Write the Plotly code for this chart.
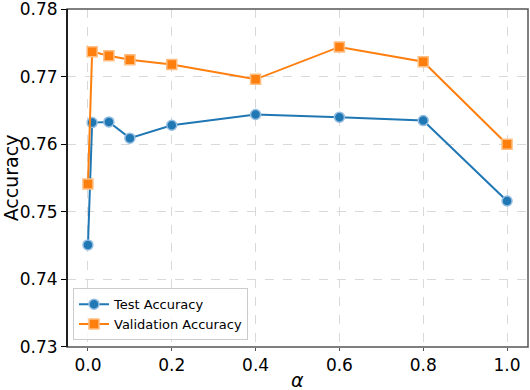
import plotly.graph_objects as go

alpha = [0.0, 0.01, 0.05, 0.1, 0.2, 0.4, 0.6, 0.8, 1.0]
test_acc = [0.7451, 0.7632, 0.7633, 0.7609, 0.7628, 0.7644, 0.7640, 0.7635, 0.7516]
val_acc = [0.7541, 0.7737, 0.7731, 0.7725, 0.7718, 0.7696, 0.7744, 0.7722, 0.7600]

x_ticks = [0.0, 0.2, 0.4, 0.6, 0.8, 1.0]
x_tick_labels = ["0.0", "0.2", "0.4", "0.6", "0.8", "1.0"]
y_ticks = [0.73, 0.74, 0.75, 0.76, 0.77, 0.78]
y_tick_labels = ["0.73", "0.74", "0.75", "0.76", "0.77", "0.78"]

FONT = "DejaVu Sans"

fig = go.Figure()
fig.add_trace(go.Scatter(
    x=alpha, y=test_acc, mode="lines+markers", name="Test Accuracy",
    line=dict(color="#1f77b4", width=2),
    marker=dict(symbol="circle", size=10, color="#1f77b4",
                line=dict(color="rgba(150,190,225,1)", width=1.5)),
    cliponaxis=False,
))
fig.add_trace(go.Scatter(
    x=alpha, y=val_acc, mode="lines+markers", name="Validation Accuracy",
    line=dict(color="#ff7f0e", width=2),
    marker=dict(symbol="square", size=10, color="#ff7f0e",
                line=dict(color="rgba(255,190,130,1)", width=1.5)),
    cliponaxis=False,
))

fig.add_shape(type="rect", xref="paper", yref="paper", x0=0, y0=0, x1=1, y1=1,
              line=dict(color="#555555", width=1.5), layer="above")
fig.add_shape(type="line", xref="paper", yref="paper", x0=0, y0=0, x1=0, y1=1,
              line=dict(color="black", width=1.5), layer="above")

fig.add_annotation(text="<i>α</i>", xref="paper", yref="paper", x=0.5, y=0,
                   yshift=-33, xanchor="center", yanchor="middle",
                   showarrow=False, font=dict(family=FONT, size=19))

fig.update_layout(
    width=530, height=390,
    margin=dict(l=67, r=2, t=9, b=43, autoexpand=False),
    paper_bgcolor="white", plot_bgcolor="white",
    font=dict(family=FONT, color="black", size=17),
    showlegend=True,
    legend=dict(x=0.013, y=0.02, xanchor="left", yanchor="bottom",
                bgcolor="rgba(255,255,255,0.8)", bordercolor="#cccccc", borderwidth=1,
                font=dict(family=FONT, size=13), tracegroupgap=0,
                itemwidth=30),
    xaxis=dict(
        range=[-0.05, 1.05], tickvals=x_ticks, ticktext=x_tick_labels,
        showgrid=True, gridcolor="#d9d9d9", griddash="dash", gridwidth=1,
        zeroline=False, ticks="outside", ticklen=3, tickcolor="#555555",
        tickfont=dict(size=17), automargin=False, ticklabeloverflow="allow",
    ),
    yaxis=dict(
        range=[0.72999, 0.78001], tickvals=y_ticks, ticktext=y_tick_labels,
        showgrid=True, gridcolor="#d9d9d9", griddash="dash", gridwidth=1,
        zeroline=False, ticks="outside", ticklen=5, tickcolor="black",
        tickfont=dict(size=17), automargin=False, ticklabeloverflow="allow",
        title=dict(text="Accuracy", font=dict(size=19), standoff=6),
    ),
)

fig.write_html("out.html", config={"displayModeBar": False},
               post_script="document.body.style.margin='0';document.body.style.padding='0';")
